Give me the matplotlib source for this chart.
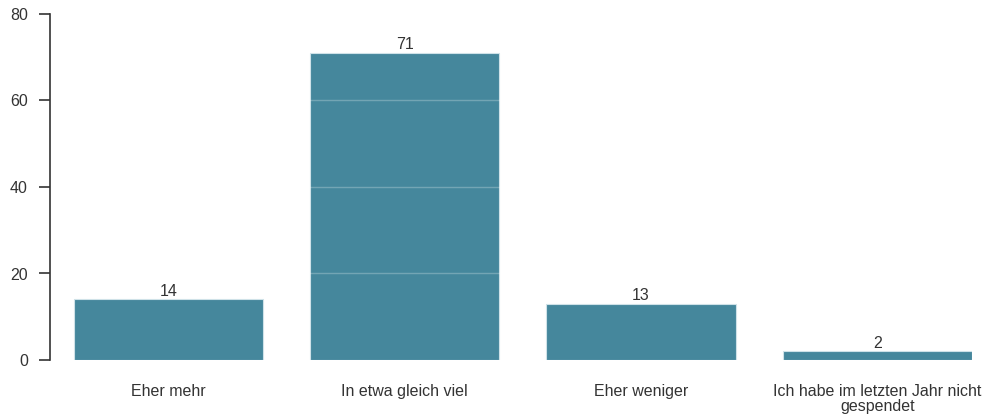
import matplotlib
matplotlib.use("Agg")
import matplotlib.pyplot as plt

categories = ["Eher mehr", "In etwa gleich viel", "Eher weniger",
              "Ich habe im letzten Jahr nicht\ngespendet"]
values = [14, 71, 13, 2]
yticks = [0, 20, 40, 60, 80]

plt.rcParams['font.family'] = ['Liberation Sans', 'DejaVu Sans']

fig = plt.figure(figsize=(9.84, 4.19), dpi=100)
W, H = 984, 419
ax = fig.add_axes([50 / W, 59 / H, (972 - 50) / W, 346 / H])

x = list(range(len(categories)))
bars = ax.bar(x, values, width=0.8, color="#45879c", edgecolor="#cfe2e8",
              linewidth=0.8, zorder=1)
for xi, v in zip(x, values):
    ax.text(xi, v + 0.1, str(v), ha="center", va="bottom", fontsize=11.5,
            color="#333333", zorder=3)

ax.set_xlim(-0.5, 3.4)
ax.set_ylim(0, 80)
ax.set_yticks(yticks)
ax.set_xticks(x)
ax.set_xticklabels(categories, fontsize=11.5, color="#333333", linespacing=0.95)
ax.tick_params(axis="x", length=0, pad=17.5)
ax.tick_params(axis="y", length=8, width=1.2, color="#333333",
               labelcolor="#333333", labelsize=11.5, pad=8)

for yt in yticks[1:-1]:
    ax.axhline(yt, color="white", alpha=0.25, lw=1, zorder=2)

for s in ["top", "right", "bottom"]:
    ax.spines[s].set_visible(False)
ax.spines["left"].set_color("#333333")
ax.spines["left"].set_linewidth(1.2)
ax.patch.set_visible(False)

fig.savefig("out.png", dpi=100)
